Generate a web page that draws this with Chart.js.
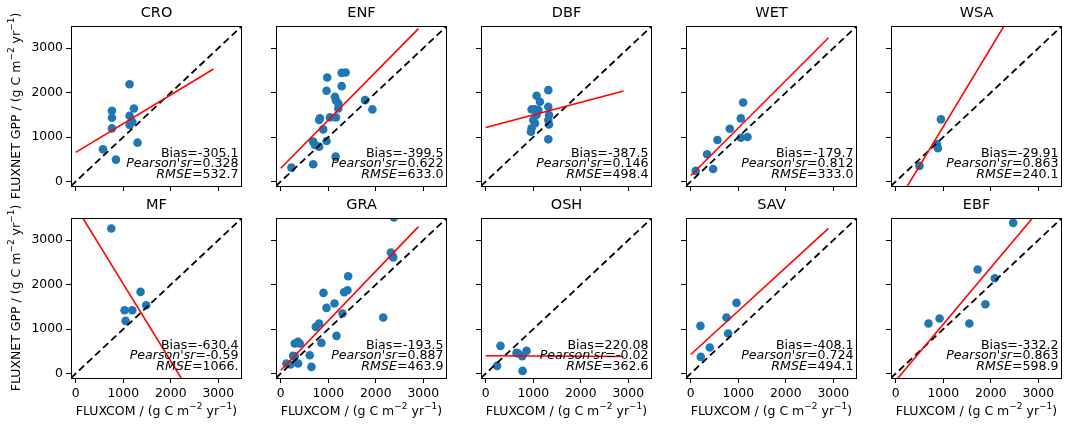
<!DOCTYPE html>
<html><head><meta charset="utf-8">
<script src="https://cdn.jsdelivr.net/npm/chart.js@4.4.0/dist/chart.umd.min.js"></script>
<style>
html,body{margin:0;padding:0;background:#fff;}
body{width:1068px;height:426px;position:relative;overflow:hidden;}
canvas.pc{position:absolute;}
</style></head><body>
<script>
// ---- data ----
const categories = ['CRO','ENF','DBF','WET','WSA','MF','GRA','OSH','SAV','EBF'];
const tickValues = [0, 1000, 2000, 3000];
const tickLabels = ['0', '1000', '2000', '3000'];
const axisMin = -100, axisMax = 3500;

const croX = [1133, 762, 762, 762, 1133, 1224, 1133, 1189, 573, 846, 1301];
const croY = [2190, 1593, 1436, 1197, 1481, 1645, 1271, 1346, 725, 494, 875];
const enfX = [225, 683, 683, 718, 810, 965, 894, 824, 810, 1035, 1162, 1211, 1141, 1162, 1211, 965, 979, 1282, 1282, 1366, 1775, 1930, 1155];
const enfY = [314, 389, 898, 823, 785, 912, 1174, 1421, 1384, 1443, 1443, 1645, 1907, 1832, 1758, 2042, 2341, 2147, 2446, 2453, 1832, 1623, 561];
const dbfX = [1070, 1141, 1317, 965, 1035, 1070, 1035, 965, 951, 1000, 1317, 1331, 1317, 1331, 1317, 1106];
const dbfY = [1930, 1795, 2057, 1623, 1623, 1496, 1309, 1197, 1122, 1384, 1683, 1496, 1384, 1286, 950, 1608];
const wetX = [105, 344, 471, 562, 822, 1054, 1103, 1054, 1195];
const wetY = [240, 613, 284, 935, 1189, 1421, 1780, 987, 1002];
const wsaX = [500, 866, 887, 951];
const wsaY = [352, 845, 748, 1399];
const mfX = [748, 1364, 1483, 1028, 1189, 1049];
const mfY = [3263, 1838, 1538, 1425, 1425, 1185];
const graX = [2382, 2319, 2368, 2354, 1420, 1335, 1405, 900, 1131, 963, 1300, 2157, 808, 738, 1174, 857, 365, 400, 295, 260, 365, 204, 295, 611, 646, 119];
const graY = [3510, 2723, 2611, 2641, 2190, 1830, 1875, 1815, 1575, 1478, 1350, 1260, 1125, 1050, 848, 690, 713, 675, 675, 398, 225, 203, 390, 413, 150, 225];
const oshX = [310, 239, 648, 768, 859, 775, 683];
const oshY = [623, 173, 465, 390, 510, 60, 450];
const savX = [204, 211, 401, 752, 787, 963];
const savY = [1073, 375, 585, 1260, 900, 1590];
const ebfX = [2472, 1725, 2085, 1887, 923, 690, 1549];
const ebfY = [3391, 2341, 2146, 1560, 1238, 1125, 1125];

// regression line endpoints (value at fitRangeX[0] and fitRangeX[1])
const fitRangeX = [0, 2900];
const fitStartY = [658, 299, 1215, 135, -534, 3756, 75, 400, 428, -161];
const fitEndY   = [2532, 3440, 2036, 3235, 4599, -1284, 3306, 385, 3267, 3525];

const biasLabels    = ['-305.1', '-399.5', '-387.5', '-179.7', '-29.91', '-630.4', '-193.5', '220.08', '-408.1', '-332.2'];
const pearsonLabels = ['0.328', '0.622', '0.146', '0.812', '0.863', '-0.59', '0.887', '-0.02', '0.724', '0.863'];
const rmseLabels    = ['532.7', '633.0', '498.4', '333.0', '240.1', '1066.', '463.9', '362.6', '494.1', '598.9'];

const seriesX = [croX, enfX, dbfX, wetX, wsaX, mfX, graX, oshX, savX, ebfX];
const seriesY = [croY, enfY, dbfY, wetY, wsaY, mfY, graY, oshY, savY, ebfY];

// ---- layout ----
const colLeft = [71, 276, 481, 686, 891];
const rowTop = [26, 218];
const PW = 171, PH = 160;
const PADL = 66, PADT = 26, PADR = 12, PADB = 46;
const FONT = '"DejaVu Sans", sans-serif';

function segFont(s, size) {
  return (s.it ? 'italic ' : '') + (s.sup ? (size * 0.72).toFixed(2) : size) + 'px ' + FONT;
}
function drawRich(ctx, segs, x, y, size, align) {
  const widths = segs.map(s => { ctx.font = segFont(s, size); return ctx.measureText(s.t).width; });
  const total = widths.reduce((a, b) => a + b, 0);
  let cx = align === 'right' ? x - total : (align === 'center' ? x - total / 2 : x);
  ctx.textAlign = 'left';
  ctx.textBaseline = 'middle';
  segs.forEach((s, i) => {
    ctx.font = segFont(s, size);
    ctx.fillText(s.t, cx, y + (s.sup ? -size * 0.42 : 0));
    cx += widths[i];
  });
}
const unitSegs = [{t: ' / (g C m'}, {t: '\u22122', sup: true}, {t: ' yr'}, {t: '\u22121', sup: true}, {t: ')'}];

const panelPlugin = {
  id: 'panelDecor',
  afterDraw(chart) {
    const o = chart.options.plugins.panelDecor;
    const ctx = chart.ctx;
    const a = chart.chartArea;
    ctx.save();
    // axes box
    ctx.strokeStyle = '#000';
    ctx.lineWidth = 1;
    ctx.strokeRect(Math.round(a.left) + 0.5, Math.round(a.top) + 0.5, Math.round(a.right - a.left) - 1, Math.round(a.bottom - a.top));
    ctx.fillStyle = '#000';
    // title
    ctx.font = '14.5px ' + FONT;
    ctx.textAlign = 'center';
    ctx.textBaseline = 'middle';
    ctx.fillText(o.title, (a.left + a.right) / 2, a.top - 12.5);
    // stats
    const fs = 12.6, rx = a.right - 3.5;
    drawRich(ctx, [{t: 'Bias=' + o.bias}], rx, a.bottom - 32.5, fs, 'right');
    drawRich(ctx, [{t: "Pearson'sr", it: true}, {t: '=' + o.pearson}], rx, a.bottom - 21.8, fs, 'right');
    drawRich(ctx, [{t: 'RMSE', it: true}, {t: '=' + o.rmse}], rx, a.bottom - 10.8, fs, 'right');
    // axis titles
    if (o.xTitle) {
      drawRich(ctx, [{t: 'FLUXCOM'}].concat(unitSegs), (a.left + a.right) / 2, a.bottom + 34, 12.5, 'center');
    }
    if (o.yTitle) {
      ctx.translate(12, (a.top + a.bottom) / 2);
      ctx.rotate(-Math.PI / 2);
      drawRich(ctx, [{t: 'FLUXNET GPP'}].concat(unitSegs), 0, 0, 12.5, 'center');
    }
    ctx.restore();
  }
};

function makeAxis(showLabels, isX) {
  return {
    type: 'linear', min: axisMin, max: axisMax,
    afterBuildTicks: s => { s.ticks = tickValues.map(v => ({value: v})); },
    afterFit: s => { if (isX) s.height = PADB; else s.width = PADL; },
    ticks: {
      display: showLabels, color: '#000', padding: 3, maxRotation: 0, autoSkip: false,
      font: {family: 'DejaVu Sans', size: 12.4},
      callback: (v, i) => tickLabels[i]
    },
    grid: {drawOnChartArea: false, drawTicks: true, tickLength: 5, color: '#000', lineWidth: 1},
    border: {display: false}
  };
}

categories.forEach((cat, idx) => {
  const row = Math.floor(idx / 5), col = idx % 5;
  const cv = document.createElement('canvas');
  cv.className = 'pc';
  const W = PADL + PW + PADR, H = PADT + PH + PADB;
  cv.width = W; cv.height = H;
  cv.style.width = W + 'px'; cv.style.height = H + 'px';
  cv.style.left = (colLeft[col] - PADL) + 'px';
  cv.style.top = (rowTop[row] - PADT) + 'px';
  document.body.appendChild(cv);
  const pts = seriesX[idx].map((x, i) => ({x: x, y: seriesY[idx][i]}));
  new Chart(cv, {
    type: 'scatter',
    data: {
      datasets: [
        {data: [{x: fitRangeX[0], y: fitStartY[idx]}, {x: fitRangeX[1], y: fitEndY[idx]}],
         showLine: true, borderColor: '#ff0000', borderWidth: 1.6, pointRadius: 0},
        {data: [{x: axisMin, y: axisMin}, {x: axisMax, y: axisMax}],
         showLine: true, borderColor: '#000', borderWidth: 1.8, borderDash: [7, 4], pointRadius: 0},
        {data: pts, backgroundColor: '#1f77b4', borderColor: '#1f77b4', borderWidth: 0, pointRadius: 4.3}
      ]
    },
    options: {
      responsive: false, animation: false, devicePixelRatio: 1,
      layout: {padding: {left: 0, top: PADT, right: PADR, bottom: 0}},
      plugins: {
        legend: {display: false}, title: {display: false}, tooltip: {enabled: false},
        panelDecor: {title: cat, bias: biasLabels[idx], pearson: pearsonLabels[idx], rmse: rmseLabels[idx],
                     xTitle: row === 1, yTitle: col === 0}
      },
      scales: {x: makeAxis(row === 1, true), y: makeAxis(col === 0, false)}
    },
    plugins: [panelPlugin]
  });
});
</script>
</body></html>
